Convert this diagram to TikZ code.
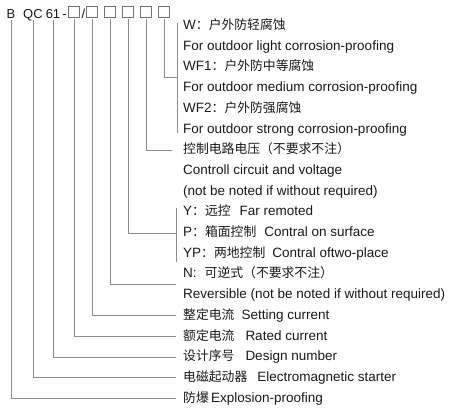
\documentclass[tikz,border=0pt]{standalone}
\usepackage{fontspec}
\setmainfont{Liberation Sans}
\newfontfamily\cjk{Noto Sans CJK SC}[Scale=0.95]
\usetikzlibrary{positioning,calc}

\begin{document}
\begin{tikzpicture}[x=1pt, y=1pt, node distance=20.7pt,
    txt/.style={anchor=west, inner sep=0pt, text height=10pt, text depth=3pt, text=black!90, font=\fontsize{13.5}{16}\selectfont},
    hd/.style={inner sep=0pt, outer sep=2pt, text depth=0pt, text=black!90, font=\fontsize{13}{13}\selectfont},
    box/.style={draw=black!55, line width=0.8pt, minimum width=10.5pt, minimum height=11pt, inner sep=0pt, outer sep=2pt},
    lead/.style={draw=black!45, line width=0.9pt}]
    \useasboundingbox (0,0) rectangle (450,-418);
    % type code
    \node[hd, anchor=base] (hB) at (11,-18) {B};
    \node[hd, anchor=base] (hQC) at (33,-18) {QC};
    \node[hd, anchor=base] (h61) at (53,-18) {61};
    \node[hd, anchor=base] (hdash) at (64.5,-18) {-};
    \node[box] (b1) at (74,-11.5) {};
    \node[hd, anchor=base] (hsl) at (83.5,-18) {/};
    \node[box] (b2) at (92,-11.5) {};
    \node[box] (b3) at (110,-11.5) {};
    \node[box] (b4) at (128,-11.5) {};
    \node[box] (b5) at (146,-11.5) {};
    \node[box] (b6) at (164,-11.5) {};
    % explanations
    \node[txt] (w) at (183,-26) {W{\cjk ：户外防轻腐蚀}};
    \node[below=of w.west, txt] (wl) {For outdoor light corrosion-proofing};
    \node[below=of wl.west, txt] (wf1) {WF1{\cjk ：户外防中等腐蚀}};
    \node[below=of wf1.west, txt] (wm) {For outdoor medium corrosion-proofing};
    \node[below=of wm.west, txt] (wf2) {WF2{\cjk ：户外防强腐蚀}};
    \node[below=of wf2.west, txt] (ws) {For outdoor strong corrosion-proofing};
    \node[below=of ws.west, txt] (cv) {{\cjk 控制电路电压（不要求不注）}};
    \node[below=of cv.west, txt] (cc) {Controll circuit and voltage};
    \node[below=of cc.west, txt] (cn) {(not be noted if without required)};
    \node[below=of cn.west, txt] (y) {Y{\cjk ：远控}\hspace{9pt}Far remoted};
    \node[below=of y.west, txt] (p) {P{\cjk ：箱面控制}\hspace{8pt}Contral on surface};
    \node[below=of p.west, txt] (yp) {YP{\cjk ：两地控制}\hspace{7pt}Contral oftwo-place};
    \node[below=of yp.west, txt] (n) {N:\hspace{8pt}{\cjk 可逆式（不要求不注）}};
    \node[below=of n.west, txt] (rev) {Reversible (not be noted if without required)};
    \node[below=of rev.west, txt] (set) {{\cjk 整定电流}\hspace{7pt}Setting current};
    \node[below=of set.west, txt] (rat) {{\cjk 额定电流}\hspace{11pt}Rated current};
    \node[below=of rat.west, txt] (des) {{\cjk 设计序号}\hspace{11pt}Design number};
    \node[below=of des.west, txt] (ems) {{\cjk 电磁起动器}\hspace{10pt}Electromagnetic starter};
    \node[below=of ems.west, txt] (exp) {{\cjk 防爆}\,Explosion-proofing};
    % leaders
    \draw[lead] ([shift={(-6,-3.5)}]w.north west) -- ([shift={(-6,3)}]ws.south west);
    \draw[lead] (b6.south) |- ($(w.west)!0.5!(ws.west)+(-6,0)$);
    \draw[lead] (b5.south) |- ([xshift=-11]cv.west);
    \draw[lead] ([shift={(-7,-2)}]y.north west) -- ([shift={(-7,-2)}]yp.south west);
    \draw[lead] (b4.south) |- ([xshift=-7]p.west);
    \draw[lead] (b3.south) |- ($(n.west)!0.5!(rev.west)+(-7,0)$);
    \draw[lead] (b2.south) |- ([xshift=-7]set.west);
    \draw[lead] (b1.south) |- ([xshift=-7]rat.west);
    \draw[lead] (h61.south) |- ([xshift=-7]des.west);
    \draw[lead] (hQC.south) |- ([xshift=-7]ems.west);
    \draw[lead] (hB.south) |- ([xshift=-7]exp.west);
\end{tikzpicture}
\end{document}
